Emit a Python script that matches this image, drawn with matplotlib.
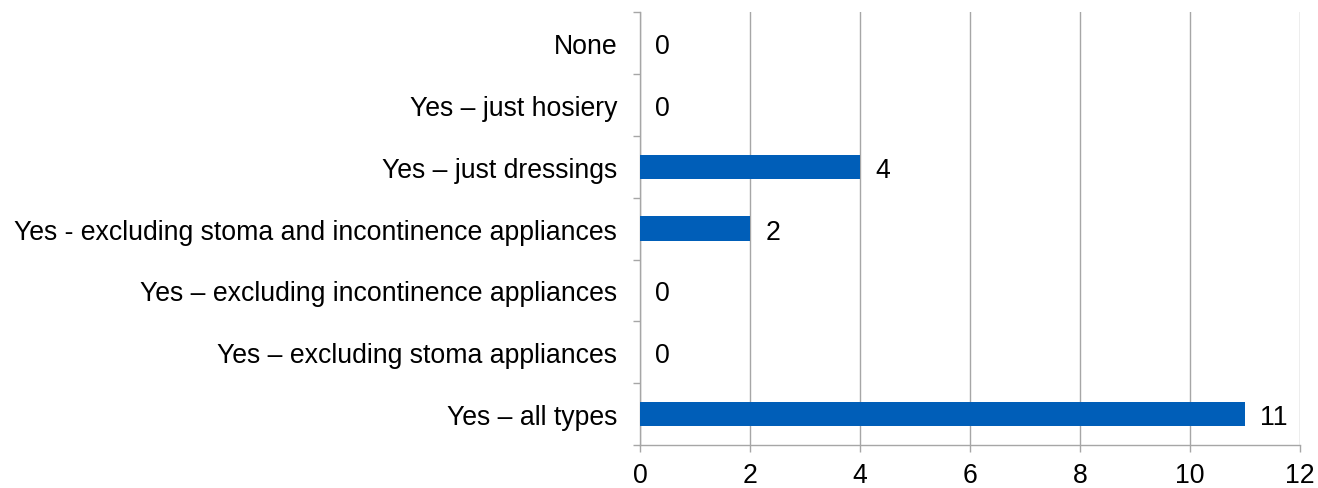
import matplotlib.pyplot as plt
import numpy as np

plt.rcParams['font.family'] = ['Liberation Sans', 'DejaVu Sans']

categories = [
    'None',
    'Yes \u2013 just hosiery',
    'Yes \u2013 just dressings',
    'Yes - excluding stoma and incontinence appliances',
    'Yes \u2013 excluding incontinence appliances',
    'Yes \u2013 excluding stoma appliances',
    'Yes \u2013 all types',
]
counts = [0, 0, 4, 2, 0, 0, 11]
x_ticks = [0, 2, 4, 6, 8, 10, 12]

bar_color = '#005EB8'
axis_gray = '#A6A6A6'
font_size = 19.2

fig = plt.figure(figsize=(13.18, 4.89), dpi=100)
ax = fig.add_axes([0.4856, 0.088, 0.5007, 0.8845])

positions = np.arange(len(categories))
ax.barh(positions, counts, height=0.4, color=bar_color, zorder=3)

for pos, value in zip(positions, counts):
    ax.annotate(str(value), (value, pos), xytext=(11, 0), textcoords='offset points',
                ha='left', va='center_baseline', fontsize=font_size, color='black')

ax.set_xlim(0, 12)
ax.set_ylim(len(categories) - 0.5, -0.5)
ax.set_xticks(x_ticks)
ax.set_xticklabels([str(t) for t in x_ticks])

# tick marks between categories, labels at the centres
ax.set_yticks(np.arange(-0.5, len(categories)), labels=[''] * (len(categories) + 1))
ax.set_yticks(positions, labels=categories, minor=True)
ax.tick_params(axis='y', which='major', length=5, width=1, color=axis_gray, direction='out')
ax.tick_params(axis='y', which='minor', length=0, pad=16.5, labelsize=font_size)
ax.tick_params(axis='x', length=5, width=1, color=axis_gray, direction='out', pad=7, labelsize=font_size)

ax.grid(axis='x', color=axis_gray, linewidth=1, zorder=0)
ax.set_axisbelow(True)

for side in ['top', 'right']:
    ax.spines[side].set_visible(False)
for side in ['left', 'bottom']:
    ax.spines[side].set_color(axis_gray)
    ax.spines[side].set_linewidth(1)

fig.savefig('out.png', dpi=100)
